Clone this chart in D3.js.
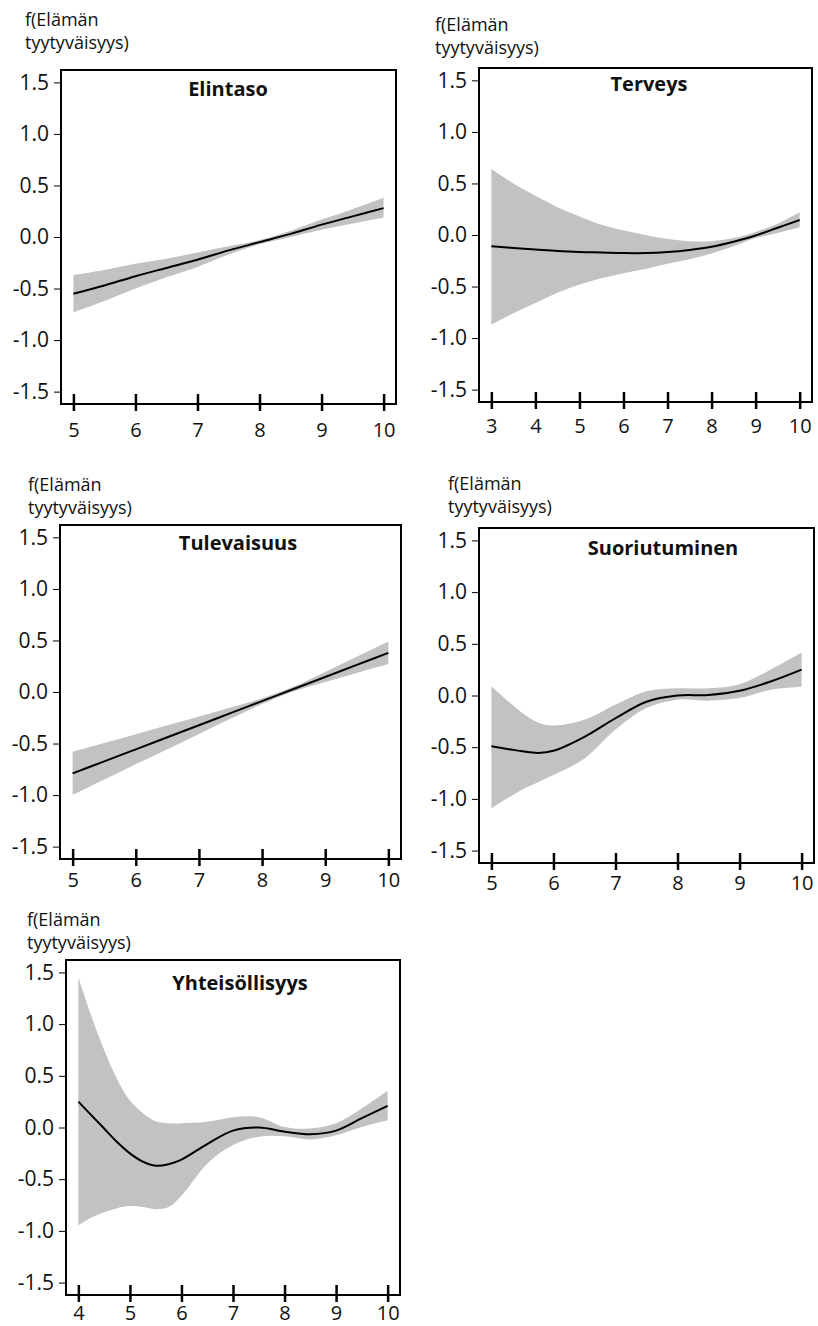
<!DOCTYPE html>
<html>
<head>
<meta charset="utf-8">
<style>
  body { margin: 0; background: #fff; }
  svg text { font-family: "Open Sans", "Noto Sans", sans-serif; fill: #111; }
</style>
<script src="https://cdn.jsdelivr.net/npm/d3@7"></script>
</head>
<body>
<svg id="chart" width="818" height="1326"></svg>
<script>
// --- data ---
const titles = ["Elintaso", "Terveys", "Tulevaisuus", "Suoriutuminen", "Yhteisöllisyys"]
const yTicks = [-1.5, -1.0, -0.5, 0.0, 0.5, 1.0, 1.5]
const yLabel = ["f(Elämän", "tyytyväisyys)"]

const elintasoX   = [5, 5.5, 6, 6.5, 7, 7.5, 8, 8.5, 9, 9.5, 10]
const elintasoFit = [-0.55, -0.47, -0.38, -0.30, -0.22, -0.13, -0.05, 0.03, 0.12, 0.20, 0.28]
const elintasoLo  = [-0.73, -0.62, -0.50, -0.39, -0.29, -0.17, -0.07, 0.00, 0.07, 0.13, 0.19]
const elintasoHi  = [-0.37, -0.32, -0.26, -0.21, -0.15, -0.09, -0.03, 0.06, 0.17, 0.27, 0.38]

const terveysX   = [3, 3.5, 4, 4.5, 5, 5.5, 6, 6.5, 7, 7.5, 8, 8.5, 9, 9.5, 10]
const terveysFit = [-0.11, -0.125, -0.14, -0.155, -0.165, -0.17, -0.175, -0.175, -0.165, -0.145, -0.115, -0.065, -0.005, 0.07, 0.145]
const terveysLo  = [-0.87, -0.76, -0.66, -0.56, -0.48, -0.42, -0.37, -0.33, -0.28, -0.235, -0.18, -0.11, -0.03, 0.02, 0.075]
const terveysHi  = [0.64, 0.50, 0.38, 0.27, 0.18, 0.10, 0.045, 0.0, -0.04, -0.06, -0.06, -0.03, 0.03, 0.11, 0.22]

const tulevaisuusX   = [5, 5.5, 6, 6.5, 7, 7.5, 8, 8.5, 9, 9.5, 10]
const tulevaisuusFit = [-0.79, -0.673, -0.556, -0.439, -0.322, -0.205, -0.088, 0.029, 0.146, 0.263, 0.38]
const tulevaisuusLo  = [-1.00, -0.85, -0.70, -0.555, -0.407, -0.259, -0.116, 0.005, 0.097, 0.184, 0.271]
const tulevaisuusHi  = [-0.58, -0.495, -0.409, -0.323, -0.237, -0.151, -0.06, 0.053, 0.195, 0.342, 0.489]

const suoriutuminenX   = [5, 5.5, 5.75, 6, 6.5, 7, 7.5, 8, 8.5, 9, 9.5, 10]
const suoriutuminenFit = [-0.49, -0.54, -0.555, -0.535, -0.40, -0.22, -0.06, 0.0, 0.005, 0.045, 0.135, 0.25]
const suoriutuminenLo  = [-1.09, -0.91, -0.84, -0.77, -0.61, -0.33, -0.12, -0.04, -0.05, -0.025, 0.055, 0.085]
const suoriutuminenHi  = [0.09, -0.17, -0.26, -0.29, -0.235, -0.09, 0.04, 0.07, 0.07, 0.11, 0.25, 0.415]

const yhteisollisyysX   = [4, 4.25, 4.5, 4.75, 5, 5.25, 5.5, 5.75, 6, 6.5, 7, 7.5, 8, 8.5, 9, 9.5, 10]
const yhteisollisyysFit = [0.25, 0.12, -0.01, -0.14, -0.25, -0.33, -0.37, -0.355, -0.31, -0.16, -0.03, 0.0, -0.04, -0.065, -0.03, 0.09, 0.21]
const yhteisollisyysLo  = [-0.945, -0.87, -0.82, -0.78, -0.76, -0.77, -0.79, -0.77, -0.66, -0.35, -0.17, -0.09, -0.085, -0.115, -0.075, 0.005, 0.07]
const yhteisollisyysHi  = [1.45, 1.08, 0.75, 0.47, 0.26, 0.14, 0.06, 0.04, 0.04, 0.055, 0.10, 0.10, 0.005, -0.01, 0.04, 0.185, 0.355]

const series = [
  [elintasoX, elintasoFit, elintasoLo, elintasoHi],
  [terveysX, terveysFit, terveysLo, terveysHi],
  [tulevaisuusX, tulevaisuusFit, tulevaisuusLo, tulevaisuusHi],
  [suoriutuminenX, suoriutuminenFit, suoriutuminenLo, suoriutuminenHi],
  [yhteisollisyysX, yhteisollisyysFit, yhteisollisyysLo, yhteisollisyysHi]
]

// --- layout (pixel boxes of each panel) ---
const layout = [
  {l: 61,  t: 70,  r: 396, b: 404, lx: 25,  ly: 26,  tx: 228, ty: 96,  xl: 437},
  {l: 479, t: 68,  r: 812, b: 402, lx: 435, ly: 31,  tx: 649, ty: 91,  xl: 433},
  {l: 60,  t: 525, r: 401, b: 859, lx: 28,  ly: 491, tx: 238, ty: 550, xl: 887},
  {l: 479, t: 528, r: 814, b: 863, lx: 448, ly: 490, tx: 663, ty: 555, xl: 890},
  {l: 66,  t: 960, r: 400, b: 1295, lx: 27, ly: 926, tx: 240, ty: 990, xl: 1320}
]

const svg = d3.select('#chart')
const smooth = d3.curveCatmullRom.alpha(0.5)

series.forEach(function(s, i) {
  let [xs, fit, lo, hi] = s
  let L = layout[i]
  let x0 = xs[0], x1 = xs[xs.length - 1]
  let pad = (x1 - x0) * 0.04

  let x = d3.scaleLinear().domain([x0 - pad, x1 + pad]).range([L.l, L.r])
  let y = d3.scaleLinear().domain([-1.62, 1.62]).range([L.b, L.t])

  let g = svg.append('g')
  let pts = xs.map((d, k) => ({x: d, f: fit[k], lo: lo[k], hi: hi[k]}))

  g.append('path')
    .datum(pts)
    .attr('fill', '#c1c2c4')
    .attr('d', d3.area().curve(smooth)
      .x(d => x(d.x)).y0(d => y(d.lo)).y1(d => y(d.hi)))

  g.append('path')
    .datum(pts)
    .attr('fill', 'none')
    .attr('stroke', '#000')
    .attr('stroke-width', 2)
    .attr('d', d3.line().curve(smooth).x(d => x(d.x)).y(d => y(d.f)))

  // y axis
  let ya = g.append('g')
    .attr('transform', 'translate(' + L.l + ',0)')
    .call(d3.axisLeft(y).tickValues(yTicks).tickSize(7).tickPadding(5)
      .tickFormat(d => d.toFixed(1)))
  ya.select('.domain').remove()
  ya.selectAll('text').style('font-size', '21px').attr('fill', '#111')

  // x axis
  let xTicks = d3.range(x0, x1 + 1)
  let xa = g.append('g')
    .attr('transform', 'translate(0,' + L.b + ')')
    .call(d3.axisBottom(x).tickValues(xTicks).tickSize(7).tickFormat(d3.format('d')))
  xa.select('.domain').remove()
  xa.selectAll('line').attr('y1', -10).attr('y2', 7).attr('stroke-width', 2.5)
  xa.selectAll('text').attr('dy', null).attr('y', L.xl - L.b).style('font-size', '20px')

  // frame
  g.append('rect')
    .attr('x', L.l).attr('y', L.t)
    .attr('width', L.r - L.l).attr('height', L.b - L.t)
    .attr('fill', 'none').attr('stroke', '#000').attr('stroke-width', 2)

  g.append('text')
    .attr('x', L.tx).attr('y', L.ty)
    .attr('text-anchor', 'middle')
    .style('font-size', '20px').style('font-weight', 'bold')
    .text(titles[i])

  yLabel.forEach(function(t, k) {
    g.append('text')
      .attr('x', L.lx).attr('y', L.ly + k * 23)
      .style('font-size', '18px')
      .text(t)
  })
})
</script>
</body>
</html>
